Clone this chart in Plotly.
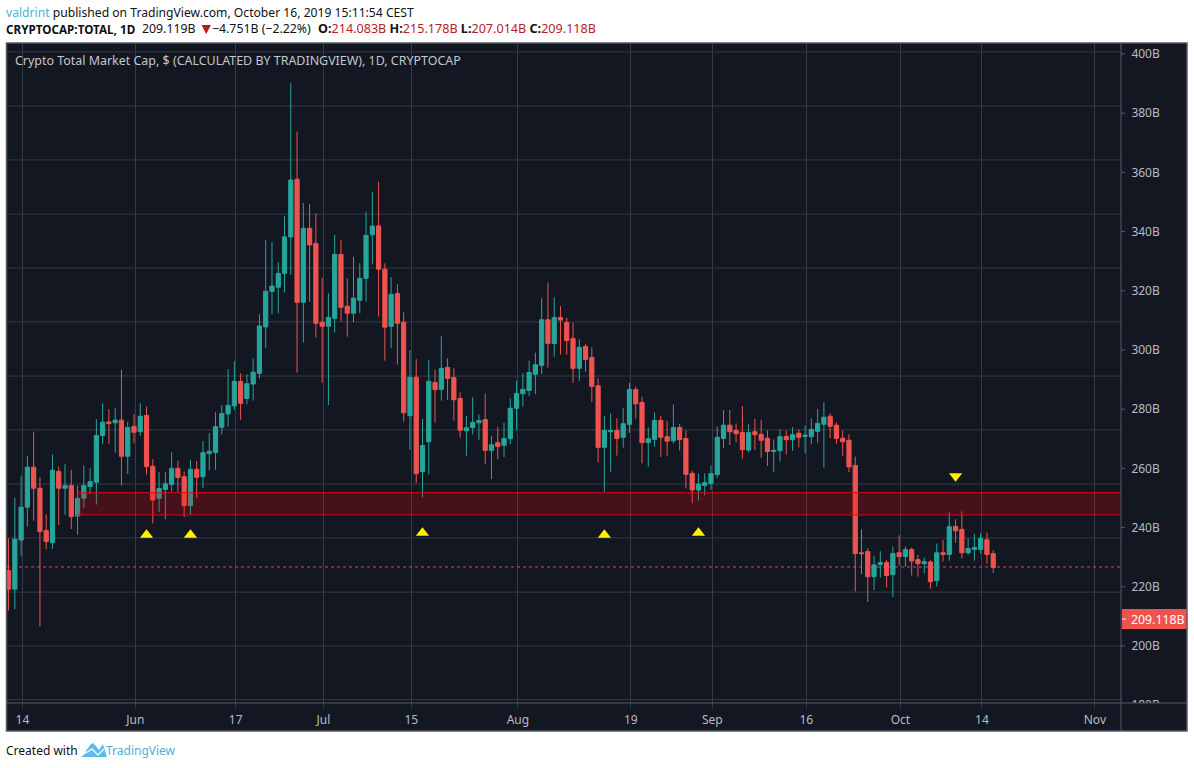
import pandas as pd
import plotly.graph_objects as go

W, H = 1194, 768
FONT = "Noto Sans"

first_day = "2019-05-11 19:00"
opens = [225.5,219.2,235.8,246.9,260.4,253.3,239.0,234.9,259.0,253.3,254.2,243.9,249.9,253.9,255.3,271.1,275.7,275.4,276.3,264.1,
274.2,272.4,277.9,260.7,249.9,252.9,254.6,260.0,257.2,247.4,259.7,257.2,265.0,265.4,273.9,278.4,281.1,289.4,283.6,288.5,
292.1,307.8,319.8,321.2,325.9,338.2,357.7,316.1,341.1,336.0,309.4,308.0,310.7,332.3,314.8,312.4,316.8,324.2,338.9,341.9,
327.3,308.0,319.1,309.4,277.8,290.8,258.9,269.0,289.0,286.7,294.1,290.7,283.6,272.7,273.8,275.4,276.5,266.0,268.7,267.8,
270.0,280.3,285.2,286.3,291.8,294.8,310.2,302.2,311.0,309.3,303.9,293.8,301.2,297.5,287.9,267.1,272.4,272.8,270.5,274.9,
286.6,282.3,268.7,269.8,276.2,270.7,269.3,273.8,270.1,258.3,252.7,254.2,254.9,257.9,270.1,274.6,272.8,272.2,266.2,272.4,
271.5,270.2,265.7,266.0,270.8,269.7,271.9,270.8,270.7,272.5,274.9,277.6,274.6,270.2,269.5,261.0,231.5,231.9,223.4,227.5,
228.2,224.1,231.5,230.2,232.6,229.2,227.8,228.4,222.1,231.5,230.9,240.4,239.4,231.5,232.6,232.6,235.9,231.2]
highs = [236.4,250.1,257.5,264.2,272.4,257.0,244.5,264.7,260.6,261.5,259.5,254.2,260.9,260.0,276.6,282.0,280.0,280.5,293.3,275.8,
278.3,282.0,280.9,263.1,258.7,258.7,265.4,262.6,258.9,262.9,262.5,269.2,271.9,279.0,281.4,293.5,296.2,292.1,291.8,297.2,
312.1,337.2,336.5,329.6,345.3,390.1,373.8,349.6,349.3,346.0,324.4,319.1,338.9,337.2,324.2,331.5,329.3,346.7,353.4,356.8,
329.3,324.6,322.2,312.7,300.0,296.9,276.7,296.6,293.4,304.7,297.2,293.8,285.7,277.8,284.0,278.2,285.3,271.0,274.1,275.4,
283.6,289.6,292.1,296.4,299.1,317.5,322.8,317.8,314.8,310.9,309.3,303.6,302.0,300.9,290.4,277.7,278.6,276.9,280.3,288.9,
287.6,284.2,273.8,278.9,277.8,276.1,281.6,275.0,272.8,259.2,258.3,258.3,261.0,274.1,279.7,279.7,275.2,281.1,274.9,276.7,
276.4,272.8,269.8,273.2,272.8,273.9,273.2,274.5,276.9,280.0,282.3,278.6,275.6,272.8,271.5,264.0,239.4,233.0,230.5,232.0,
229.1,233.6,237.4,233.6,233.3,230.8,229.9,229.1,234.6,235.8,245.2,242.8,245.5,236.4,237.9,238.1,238.3,232.4]
lows = [212.0,212.4,230.5,240.3,242.3,206.6,232.7,232.8,240.9,244.3,239.5,237.6,246.5,251.4,247.8,268.2,268.3,265.3,254.2,258.1,
268.5,271.0,257.9,241.4,245.3,242.8,252.2,252.0,243.5,244.3,250.1,253.4,259.3,259.5,271.5,274.1,279.8,276.4,281.7,282.9,
290.4,300.6,312.1,312.4,319.4,325.3,292.3,302.5,316.3,304.3,289.0,281.4,305.9,309.6,304.5,309.4,312.4,316.3,328.9,311.3,
296.4,300.6,295.1,275.8,266.2,255.0,250.2,258.0,275.5,282.9,283.1,276.1,270.4,264.3,271.5,269.6,261.5,256.4,263.1,263.9,
268.2,272.9,280.8,284.4,285.1,291.9,294.0,297.7,298.5,298.4,288.9,289.6,292.7,282.5,262.0,252.1,258.9,264.3,267.0,272.0,
276.8,261.7,260.6,267.3,263.9,264.3,268.4,266.0,253.2,248.2,249.1,250.9,252.7,256.7,266.9,267.9,268.8,263.3,265.4,266.2,
263.6,260.8,258.9,262.3,264.7,265.9,267.1,265.1,268.1,268.7,260.3,270.2,268.3,264.3,258.7,218.4,224.3,214.9,218.9,223.1,
219.8,216.6,227.2,226.8,223.8,223.4,224.6,219.4,220.1,228.5,228.8,234.9,229.5,230.9,228.8,231.1,227.9,224.7]
closes = [219.2,236.1,246.9,260.4,253.3,238.6,235.3,259.4,253.3,254.2,243.7,249.9,254.2,255.5,271.1,275.6,275.1,276.3,264.1,273.8,
272.2,277.6,260.6,249.3,253.2,254.8,260.0,256.9,247.4,259.7,257.0,265.3,265.8,274.1,278.5,281.3,289.4,282.0,288.6,292.5,
308.1,319.8,321.6,325.9,338.2,357.4,316.1,341.1,335.5,309.0,308.0,311.0,332.3,314.4,312.4,317.5,324.2,338.7,341.9,327.3,
307.7,318.8,309.0,278.8,290.8,258.2,267.7,289.4,286.6,293.8,290.4,283.2,272.9,273.7,275.5,276.2,266.1,268.0,267.4,270.1,
280.3,285.3,286.7,292.4,295.0,310.2,302.2,311.0,310.1,303.2,293.8,300.9,296.8,287.7,267.1,272.8,272.8,270.1,275.1,286.7,
281.8,268.7,270.0,276.2,270.5,269.2,273.8,269.7,258.0,252.7,254.7,255.2,258.2,270.5,274.6,272.4,271.7,266.3,272.1,271.4,
269.5,265.7,266.1,270.7,269.7,271.4,270.5,271.2,273.2,275.2,277.3,274.2,270.1,269.0,260.5,231.2,231.2,223.4,227.4,228.2,
223.8,231.2,230.2,232.6,228.7,227.8,228.5,221.7,231.5,230.9,240.3,238.9,231.5,232.9,233.3,236.4,230.9,226.5]

up_marker_dates = ["2019-06-02 19:00", "2019-06-09 19:00", "2019-07-16 19:00", "2019-08-14 19:00", "2019-08-29 19:00"]
up_marker_values = [237.5, 237.5, 238.2, 237.5, 238.2]
down_marker_dates = ["2019-10-09 19:00"]
down_marker_values = [257.4]

price_ticks = [400, 380, 360, 340, 320, 300, 280, 260, 240, 220, 200, 180]
price_tick_labels = ["400B", "380B", "360B", "340B", "320B", "300B", "280B", "260B", "240B", "220B", "200B", "180B"]
grid_values = [400.7, 382.4, 364.2, 345.9, 327.7, 309.5, 291.2, 273.0, 254.7, 236.5, 218.2, 200.0, 181.9]
date_ticks = ["2019-05-14", "2019-06-01", "2019-06-17", "2019-07-01", "2019-07-15", "2019-08-01",
              "2019-08-19", "2019-09-01", "2019-09-16", "2019-10-01", "2019-10-14", "2019-11-01"]
date_tick_labels = ["14", "Jun", "17", "Jul", "15", "Aug", "19", "Sep", "16", "Oct", "14", "Nov"]
band_low, band_high = 244.3, 251.8
band_start, band_end = "2019-05-22 15:00", "2019-11-05 03:00"
last_line_value = 226.7
last_price = 209.118

X0, X1, Y0, Y1, XR, YB = 7, 1121, 43, 703, 1187, 731
BG = "#131722"
GRID = "#363a45"
BORDER = "#565a64"
TXT = "#b8bbc4"
def px(x): return x / W
def py(y): return 1 - y / H
def poly(pts, close=True):
    return "M" + " L".join(f"{px(a):.5f},{py(b):.5f}" for a, b in pts) + (" Z" if close else "")

dates = pd.date_range(first_day, periods=len(opens)).strftime("%Y-%m-%d %H:%M").tolist()

fig = go.Figure()
fig.add_trace(go.Candlestick(
    x=dates, open=opens, high=highs, low=lows, close=closes, whiskerwidth=0,
    increasing=dict(line=dict(color="#26a69a", width=1), fillcolor="#26a69a"),
    decreasing=dict(line=dict(color="#ef5350", width=1), fillcolor="#ef5350"),
    hoverinfo="skip", showlegend=False))
fig.add_trace(go.Scatter(x=up_marker_dates, y=up_marker_values, mode="markers", showlegend=False, hoverinfo="skip",
                         marker=dict(symbol="triangle-up", size=11.5, color="#fff200")))
fig.add_trace(go.Scatter(x=down_marker_dates, y=down_marker_values, mode="markers", showlegend=False, hoverinfo="skip",
                         marker=dict(symbol="triangle-down", size=11.5, color="#fff200")))

shapes = [dict(type="rect", xref="paper", yref="paper", x0=px(6.5), x1=px(XR), y0=py(YB), y1=py(Y0),
               fillcolor=BG, line=dict(width=0), layer="below")]
for g in grid_values:
    shapes.append(dict(type="line", xref="paper", yref="y", x0=px(X0), x1=px(X1), y0=g, y1=g,
                       line=dict(color=GRID, width=1), layer="below"))
shapes.append(dict(type="rect", xref="x", yref="y", x0=band_start, x1=band_end, y0=band_low, y1=band_high,
                   fillcolor="rgba(255,0,0,0.22)", line=dict(width=0), layer="above"))
for edge in (band_low, band_high):
    shapes.append(dict(type="line", xref="x", yref="y", x0=band_start, x1=band_end, y0=edge, y1=edge,
                       line=dict(color="rgba(215,10,20,0.8)", width=1.2), layer="above"))
shapes += [
    dict(type="line", xref="paper", yref="y", x0=px(X0), x1=px(X1), y0=last_line_value, y1=last_line_value,
         line=dict(color="rgba(239,83,110,0.85)", width=1, dash="dot"), layer="above"),
    # cover that clips the lowest price label at the time-axis line, then the frame
    dict(type="rect", xref="paper", yref="paper", x0=px(X1 + 1), x1=px(XR), y0=py(YB), y1=py(Y1),
         fillcolor=BG, line=dict(width=0), layer="above"),
    dict(type="line", xref="paper", yref="paper", x0=px(X0), x1=px(XR), y0=py(Y1), y1=py(Y1),
         line=dict(color=BORDER, width=1), layer="above"),
    dict(type="line", xref="paper", yref="paper", x0=px(X1), x1=px(X1), y0=py(YB), y1=py(Y0),
         line=dict(color=BORDER, width=1), layer="above"),
    dict(type="rect", xref="paper", yref="paper", x0=px(6.5), x1=px(XR), y0=py(YB), y1=py(Y0),
         fillcolor="rgba(0,0,0,0)", line=dict(color=BORDER, width=1.5), layer="above"),
    # price tag
    dict(type="rect", xref="paper", yref="paper", x0=px(X1 + 1), x1=px(XR - 0.5), y0=py(629), y1=py(609),
         fillcolor="#ef5350", line=dict(width=0), layer="above"),
    dict(type="line", xref="paper", yref="paper", x0=px(X1 + 1), x1=px(X1 + 5), y0=py(619), y1=py(619),
         line=dict(color="#ffffff", width=1), layer="above"),
    # down arrow in the header line
    dict(type="path", xref="paper", yref="paper", path=poly([(201.5, 25), (211, 25), (206.2, 34)]),
         fillcolor="#b71c1c", line=dict(width=0)),
]
# TradingView logo mark in the footer
shapes.append(dict(type="path", xref="paper", yref="paper", fillcolor="#5cbde6", line=dict(width=0),
                   path=poly([(82, 757), (90, 745), (93, 743), (96, 746), (99, 750), (103, 744), (107, 757)])))
shapes.append(dict(type="path", xref="paper", yref="paper", line=dict(color="#ffffff", width=1.2),
                   path=poly([(84, 754), (92, 749), (98, 755), (104, 749)], close=False)))

def note(text, x, y, size, color="#111111", anchor="left"):
    return dict(text=text, xref="paper", yref="paper", x=px(x), y=py(y), xanchor=anchor, yanchor="middle",
                showarrow=False, align="left", font=dict(family=FONT, size=size, color=color))

RED = "#b71c2a"
annotations = [
    note('<span style="color:#4fb0d8">valdrint</span> published on TradingView.com, October 16, 2019 15:11:54 CEST', 4, 12.5, 12.15),
    note('<b>CRYPTOCAP:TOTAL, 1D</b>', 4, 29, 11.7),
    note('209.119B', 140, 29, 12.3),
    note('−4.751B (−2.22%)', 210, 29, 12.3),
    note(f'<b>O:</b><span style="color:{RED}">214.083B</span> <b>H:</b><span style="color:{RED}">215.178B</span> '
         f'<b>L:</b><span style="color:{RED}">207.014B</span> <b>C:</b><span style="color:{RED}">209.118B</span>', 316, 29, 12.6),
    note("Crypto Total Market Cap, $ (CALCULATED BY TRADINGVIEW), 1D, CRYPTOCAP", 13, 60.5, 12.45, "#c3c6ce"),
    note(f"{last_price:.3f}B", 1129, 619, 12.3, "#ffffff"),
    note("Created with", 4, 750, 12),
    note("TradingView", 104, 750, 12, "#4fb0d8"),
]

fig.update_layout(
    width=W, height=H, margin=dict(l=0, r=0, t=0, b=0), autosize=False,
    paper_bgcolor="#ffffff", plot_bgcolor=BG, showlegend=False, boxgap=0.33, boxgroupgap=0,
    shapes=shapes, annotations=annotations, dragmode=False,
    font=dict(family=FONT, size=12, color=TXT),
    xaxis=dict(domain=[px(X0), px(X1)], type="date", rangeslider=dict(visible=False), automargin=False,
               range=["2019-05-11 13:00", "2019-11-05 04:00"], anchor="y", ticklabelstandoff=1,
               tickmode="array", tickvals=date_ticks, ticktext=date_tick_labels, ticks="outside", ticklen=2,
               tickcolor=GRID, showgrid=True, gridcolor=GRID, gridwidth=1, zeroline=False, showline=False,
               tickfont=dict(family=FONT, size=12, color=TXT)),
    yaxis=dict(domain=[py(706), py(Y0)], side="right", range=[179.73, 403.7], automargin=False,
               tickmode="array", tickvals=price_ticks, ticktext=price_tick_labels, ticks="outside", ticklen=7,
               tickcolor=BG, showgrid=False, zeroline=False, showline=False,
               tickfont=dict(family=FONT, size=12, color=TXT)),
)
# short grey tick marks next to the price labels
for v in price_ticks[:-1]:
    fig.add_shape(type="line", xref="paper", yref="y", x0=px(X1), x1=px(X1 + 4), y0=v, y1=v,
                  line=dict(color=BORDER, width=1), layer="above")
fig.write_html("out.html", post_script="document.body.style.margin='0';", config=dict(displayModeBar=False))
